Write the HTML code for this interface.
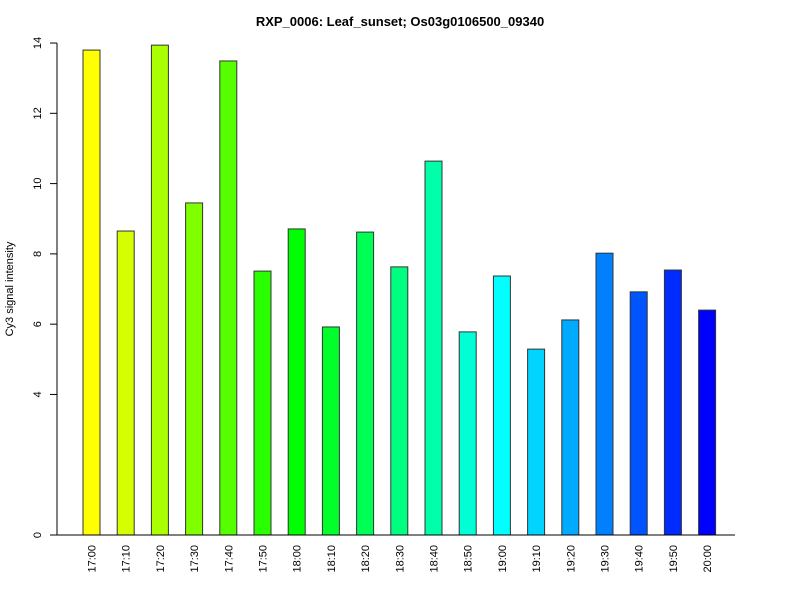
<!DOCTYPE html>
<html><head><meta charset="utf-8"><style>
body{margin:0;background:#fff}
svg{display:block;font-family:"Liberation Sans",Arial,sans-serif}
</style></head><body>
<svg id="chart" width="800" height="600">
<text x="400" y="26" text-anchor="middle" font-size="13" font-weight="bold">RXP_0006: Leaf_sunset; Os03g0106500_09340</text>
<text transform="translate(13,289) rotate(-90)" text-anchor="middle" font-size="11">Cy3 signal intensity</text>
<g id="yaxis"></g>
<g id="bars"></g>
<g id="xlabels"></g>
<line x1="57" y1="535" x2="735" y2="535" stroke="#000"/>
</svg>
<script>
const categories=["17:00","17:10","17:20","17:30","17:40","17:50","18:00","18:10","18:20","18:30","18:40","18:50","19:00","19:10","19:20","19:30","19:40","19:50","20:00"];
const values=[13.8,8.65,13.94,9.45,13.49,7.51,8.71,5.92,8.62,7.63,10.64,5.78,7.37,5.29,6.12,8.02,6.92,7.54,6.40];
const yTicks=[0,4,6,8,10,12,14];
const NS="http://www.w3.org/2000/svg";
const y=v=>535-v*35.14;
const x=i=>91.5+i*34.2;
function mk(t,a,p){const e=document.createElementNS(NS,t);for(const k in a)e.setAttribute(k,a[k]);p.appendChild(e);return e;}
const ya=document.getElementById('yaxis');
const al=mk('line',{x1:57,y1:y(0),x2:57,y2:y(14),stroke:'#000'},ya);


yTicks.forEach(t=>{
 const l=mk('line',{x1:50,y1:y(t),x2:57,y2:y(t),stroke:'#000'},ya);
 
 
 const tx=mk('text',{transform:`translate(41,${y(t)}) rotate(-90)`,'text-anchor':'middle','font-size':'11'},ya);
 tx.textContent=t;
 
 
});
const bg=document.getElementById('bars'),xg=document.getElementById('xlabels');
categories.forEach((c,i)=>{
 const h=(60+180*i/(categories.length-1));
 const r=mk('rect',{x:x(i)-8.5,y:y(values[i]),width:17,height:y(0)-y(values[i]),fill:`hsl(${h},100%,50%)`,stroke:'#333','stroke-width':1},bg);
 
 
 const t=mk('text',{transform:`translate(${x(i)+4},545) rotate(-90)`,'text-anchor':'end','font-size':'11'},xg);
 t.textContent=c;
 
 
});
</script>
</body></html>
